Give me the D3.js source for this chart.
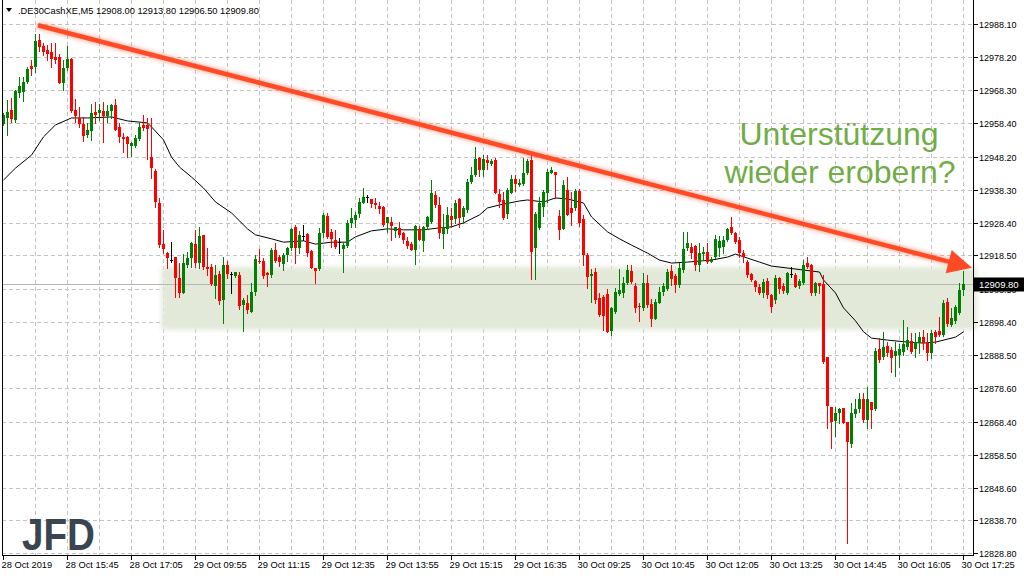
<!DOCTYPE html>
<html><head><meta charset="utf-8">
<script src="https://cdn.jsdelivr.net/npm/d3@7"></script>
<style>html,body{margin:0;padding:0;background:#fff;overflow:hidden}svg{display:block;font-family:"Liberation Sans",Arial,sans-serif}</style>
</head><body><svg id="c" width="1024" height="576"></svg>
<script>
const symbol = ".DE30CashXE,M5";
const lastOHLC = [12908.00, 12913.80, 12906.50, 12909.80];
const openV = [12958.1,12959.9,12962.3,12959.3,12967.4,12967.7,12970.7,12975.5,12975.2,12983.4,12981.6,12980.4,12979.8,12978.3,12978.3,12970.4,12974.9,12977.7,12962.3,12959.9,12958.1,12954.8,12956.0,12961.7,12961.4,12962.0,12960.5,12962.0,12963.8,12957.2,12954.2,12954.2,12951.5,12951.5,12953.6,12957.8,12957.8,12948.1,12943.9,12934.3,12921.9,12919.2,12917.1,12918.0,12911.7,12907.2,12915.6,12917.7,12921.9,12916.2,12924.7,12915.0,12915.0,12909.3,12912.9,12905.1,12915.6,12912.9,12912.3,12912.6,12903.6,12904.2,12901.5,12907.5,12916.8,12916.8,12913.2,12912.6,12920.1,12918.0,12915.9,12918.6,12920.7,12927.1,12920.7,12924.4,12925.0,12919.8,12914.7,12914.4,12925.3,12930.4,12925.6,12923.2,12922.5,12920.4,12921.3,12928.3,12929.2,12931.0,12934.3,12936.1,12935.5,12934.3,12933.4,12933.1,12928.3,12928.6,12925.9,12926.8,12925.3,12922.9,12921.9,12920.1,12926.5,12922.9,12927.1,12928.6,12936.7,12933.7,12925.0,12926.5,12930.4,12929.5,12935.5,12930.1,12932.2,12940.6,12942.7,12947.8,12944.2,12947.2,12946.0,12947.2,12937.0,12935.2,12931.0,12937.3,12941.5,12939.7,12940.0,12943.3,12947.2,12920.7,12926.8,12933.1,12937.3,12943.3,12943.6,12930.4,12926.5,12938.2,12932.8,12932.8,12937.9,12929.5,12918.6,12912.3,12913.5,12905.7,12906.0,12906.9,12895.8,12901.5,12906.9,12907.2,12910.2,12913.8,12909.3,12903.3,12902.7,12910.2,12903.9,12899.4,12904.2,12907.5,12908.4,12913.8,12912.3,12909.6,12914.1,12920.7,12921.0,12921.3,12915.6,12918.9,12919.5,12916.5,12918.0,12920.7,12921.0,12923.2,12927.1,12925.3,12923.2,12919.2,12916.5,12912.9,12910.8,12909.0,12907.2,12910.8,12906.6,12905.1,12911.7,12909.3,12907.2,12912.9,12912.6,12909.3,12910.2,12916.2,12915.6,12907.2,12910.2,12909.9,12887.9,12872.9,12868.7,12871.1,12872.6,12868.4,12861.7,12870.8,12872.3,12875.3,12869.0,12874.4,12872.3,12890.3,12887.9,12891.2,12890.0,12888.2,12888.5,12889.4,12890.9,12892.7,12890.3,12892.1,12893.9,12892.1,12889.1,12895.5,12895.8,12894.5,12904.5,12897.6,12898.8,12901.2,12908.0];
const highV = [12961.4,12965.3,12965.9,12968.3,12972.2,12972.2,12975.2,12977.4,12985.2,12985.2,12982.5,12981.9,12982.5,12982.5,12979.2,12977.4,12981.6,12978.0,12965.6,12963.2,12960.2,12958.4,12964.1,12964.7,12964.1,12964.7,12963.8,12964.1,12965.6,12958.4,12955.4,12954.5,12952.7,12954.8,12958.4,12960.8,12959.9,12959.9,12944.5,12935.8,12926.2,12919.5,12922.5,12918.0,12916.2,12918.9,12919.5,12922.5,12926.2,12927.1,12924.7,12920.7,12915.9,12915.6,12913.8,12918.0,12916.8,12913.5,12913.5,12913.5,12905.7,12906.6,12910.2,12918.6,12920.4,12917.7,12913.5,12920.7,12922.2,12918.6,12919.2,12921.0,12926.8,12927.7,12925.9,12927.7,12925.3,12920.1,12914.7,12926.8,12931.3,12931.3,12926.5,12926.2,12923.8,12922.2,12929.2,12932.8,12931.6,12935.8,12938.8,12936.7,12935.5,12935.8,12934.6,12933.4,12930.1,12930.1,12927.1,12928.6,12925.6,12924.1,12922.5,12927.7,12927.4,12927.4,12930.4,12941.2,12937.9,12936.1,12931.0,12933.1,12932.8,12935.2,12935.8,12933.4,12941.5,12945.1,12951.2,12948.1,12948.7,12948.7,12947.5,12947.8,12938.5,12937.6,12938.8,12942.7,12942.7,12941.5,12947.8,12947.5,12949.7,12931.6,12936.1,12938.2,12944.5,12945.1,12943.6,12932.2,12941.2,12942.1,12937.6,12938.5,12938.5,12930.7,12919.2,12914.4,12914.7,12907.2,12906.6,12908.4,12903.0,12908.7,12914.4,12912.0,12915.6,12915.6,12910.2,12904.2,12913.2,12912.6,12905.4,12905.4,12909.0,12910.2,12914.4,12915.6,12912.9,12916.2,12925.6,12925.6,12922.2,12921.6,12922.2,12921.0,12922.2,12918.0,12924.7,12924.4,12924.4,12926.8,12930.1,12925.6,12924.1,12920.1,12917.1,12913.2,12911.1,12909.9,12911.4,12911.7,12906.9,12912.6,12912.0,12910.2,12913.5,12915.0,12913.2,12911.4,12917.1,12918.0,12915.9,12910.5,12910.2,12912.6,12887.9,12872.9,12872.9,12872.6,12872.6,12868.4,12874.1,12875.3,12877.1,12877.1,12878.9,12874.4,12890.6,12893.6,12895.5,12892.4,12890.9,12892.4,12891.8,12899.1,12897.0,12895.1,12895.1,12895.5,12896.1,12895.1,12896.1,12896.1,12900.0,12905.1,12905.7,12902.7,12903.6,12910.2,12913.8];
const lowV = [12957.8,12954.8,12958.7,12958.7,12966.2,12965.0,12970.4,12972.8,12973.7,12980.1,12978.9,12977.4,12975.2,12976.5,12970.4,12968.3,12974.3,12961.7,12958.7,12957.2,12953.0,12954.2,12953.3,12958.4,12959.3,12952.7,12958.7,12959.9,12956.3,12952.7,12949.7,12948.1,12948.4,12951.2,12953.3,12956.3,12947.5,12941.8,12933.1,12921.0,12919.2,12914.7,12916.5,12906.0,12906.0,12907.2,12915.0,12915.0,12915.0,12914.7,12914.4,12912.6,12909.6,12905.7,12903.9,12898.2,12911.7,12907.2,12912.0,12902.4,12895.8,12901.2,12901.5,12906.6,12916.2,12911.7,12909.3,12912.0,12916.5,12915.3,12914.1,12916.8,12920.1,12916.2,12919.2,12923.2,12918.3,12914.7,12910.2,12914.1,12924.1,12923.8,12921.0,12920.7,12919.2,12913.5,12921.0,12927.1,12927.1,12930.1,12934.3,12934.6,12933.1,12932.8,12931.3,12927.4,12925.6,12923.2,12924.1,12924.1,12922.2,12920.7,12920.1,12915.9,12923.2,12919.8,12926.5,12928.3,12933.1,12923.8,12920.7,12925.3,12927.1,12928.3,12927.1,12928.3,12931.6,12940.3,12942.4,12942.4,12942.4,12944.5,12945.7,12937.3,12933.1,12929.5,12929.8,12937.3,12937.9,12939.4,12939.7,12943.0,12911.4,12911.4,12926.5,12930.4,12934.6,12943.3,12935.8,12923.5,12926.5,12930.7,12927.7,12932.2,12927.4,12915.6,12908.7,12904.5,12904.2,12900.3,12896.1,12895.5,12894.5,12901.2,12906.6,12906.0,12909.9,12910.2,12901.5,12898.8,12902.1,12903.0,12897.3,12899.4,12904.2,12906.6,12908.1,12909.6,12907.5,12909.0,12913.5,12920.1,12917.7,12914.1,12913.8,12917.1,12916.2,12916.5,12917.7,12918.3,12919.2,12922.9,12925.0,12922.2,12918.0,12916.5,12912.0,12910.8,12907.8,12906.9,12906.0,12905.7,12901.5,12904.2,12907.2,12907.2,12906.9,12912.0,12909.0,12908.7,12909.9,12914.7,12906.6,12906.6,12907.2,12886.1,12866.5,12860.5,12864.1,12868.0,12868.0,12831.9,12860.8,12869.9,12871.4,12868.4,12866.5,12866.5,12872.0,12886.4,12887.3,12888.2,12883.4,12882.2,12884.9,12888.5,12890.3,12889.1,12887.9,12889.1,12890.3,12887.0,12887.6,12892.1,12894.2,12894.2,12897.3,12897.3,12898.2,12900.9,12906.5];
const closeV = [12960.8,12961.7,12959.6,12968.0,12969.5,12970.7,12974.6,12974.6,12983.1,12981.3,12979.8,12979.2,12977.7,12977.4,12970.4,12974.9,12977.7,12962.0,12960.5,12958.1,12954.5,12956.3,12961.4,12960.8,12962.3,12960.5,12962.0,12963.8,12956.3,12954.2,12953.6,12952.1,12952.4,12953.9,12957.2,12956.9,12956.6,12944.8,12934.6,12921.6,12920.4,12917.7,12917.1,12911.7,12907.2,12916.2,12917.7,12922.2,12916.2,12924.4,12915.0,12914.4,12909.9,12912.6,12904.8,12915.6,12912.9,12912.9,12913.5,12903.3,12905.1,12902.1,12907.5,12917.4,12916.5,12912.3,12912.6,12920.1,12916.8,12916.5,12918.6,12920.7,12926.5,12920.7,12924.7,12924.4,12919.2,12914.7,12913.8,12925.3,12930.7,12924.1,12923.5,12921.0,12922.5,12921.6,12928.3,12929.8,12930.7,12934.6,12936.1,12936.1,12934.0,12933.7,12932.5,12927.7,12930.1,12927.4,12927.1,12924.7,12923.2,12921.3,12920.1,12927.4,12923.2,12927.1,12930.1,12937.3,12933.7,12925.3,12927.1,12930.7,12929.2,12934.3,12929.8,12932.8,12940.6,12942.7,12947.5,12944.2,12947.5,12946.3,12946.9,12937.3,12934.6,12929.8,12938.2,12941.5,12940.0,12940.3,12943.3,12946.9,12919.5,12931.0,12934.3,12937.6,12943.6,12944.2,12942.7,12926.2,12939.7,12930.7,12931.3,12937.9,12928.3,12918.6,12912.0,12912.9,12905.1,12900.6,12900.3,12895.5,12902.7,12907.5,12908.1,12910.2,12914.1,12910.5,12902.7,12903.0,12910.2,12903.6,12899.4,12904.5,12907.5,12909.3,12913.5,12911.4,12909.6,12914.7,12920.4,12922.2,12919.2,12915.6,12919.2,12919.5,12916.5,12917.4,12923.5,12922.9,12923.2,12926.5,12925.3,12922.5,12919.2,12918.0,12912.6,12911.1,12909.0,12907.2,12910.5,12906.6,12903.0,12911.7,12908.4,12907.8,12913.2,12912.9,12909.0,12910.8,12915.6,12915.0,12907.2,12910.2,12909.3,12886.4,12873.2,12868.4,12871.1,12872.3,12868.0,12862.3,12871.1,12872.3,12875.3,12869.0,12875.3,12872.0,12889.7,12887.0,12890.9,12889.1,12887.6,12889.7,12890.3,12891.8,12893.0,12889.4,12892.4,12893.9,12892.1,12889.1,12895.1,12893.9,12894.5,12904.2,12897.9,12899.7,12903.0,12908.1,12909.8];
// moving average (bar index, value)
const maIdx = [0,3,7,10,13,17,21,27,31,36,37,40,42,44,47,50,53,57,61,63,67,70,75,78,82,86,88,92,96,100,105,109,112,115,119,121,124,129,131,135,138,141,145,147,151,154,157,161,164,167,171,174,177,181,183,186,189,192,196,200,204,205,208,210,213,215,217,221,226,230,233,236,238,240];
const maVal = [12941.2,12944.8,12948.7,12954.2,12957.8,12959.9,12959.9,12960.2,12959.0,12958.4,12957.2,12953.3,12948.1,12945.1,12942.1,12938.8,12934.6,12931.3,12926.5,12924.7,12923.5,12922.5,12922.9,12921.9,12922.5,12922.5,12924.1,12925.9,12926.5,12926.2,12926.2,12926.8,12927.1,12928.3,12930.7,12932.8,12933.7,12934.9,12935.2,12934.6,12935.8,12935.5,12934.3,12930.1,12925.6,12923.5,12921.6,12919.2,12917.1,12916.2,12916.5,12916.8,12917.1,12918.0,12918.9,12917.7,12916.5,12915.3,12914.7,12914.1,12913.5,12911.1,12907.2,12902.7,12898.8,12895.5,12893.6,12893.0,12892.4,12892.1,12892.4,12893.3,12893.9,12895.5];
const xTickIdx = [0,16,32,48,64,80,96,112,128,144,160,176,192,208,224,240];
const xTickLabels = ["28 Oct 2019","28 Oct 15:45","28 Oct 17:05","29 Oct 09:55","29 Oct 11:15","29 Oct 12:35","29 Oct 13:55","29 Oct 15:15","29 Oct 16:35","30 Oct 09:25","30 Oct 10:45","30 Oct 12:05","30 Oct 13:25","30 Oct 14:45","30 Oct 16:05","30 Oct 17:25"];
const yTicks = [12988.10,12978.20,12968.30,12958.40,12948.20,12938.30,12928.40,12918.50,12908.50,12898.40,12888.50,12878.60,12868.40,12858.50,12848.60,12838.70,12828.80];
const zoneTop = 12915.0, zoneBottom = 12896.1, zoneStartIdx = 40;
const trendStart = [8.6, 12987.8], trendEnd = [242.1, 12914.8];
const noteLines = ["Unterstützung","wieder erobern?"];
const logoText = "JFD";

const svg = d3.select("#c");
const L = 2, R = 973, B = 555;
const x = d3.scaleLinear().domain([0, 240]).range([3.5, 963.5]);
const y = d3.scaleLinear().domain([12828.8, 12988.1]).range([553.3, 24.3]);
const defs = svg.append("defs");
defs.append("filter").attr("id","soft").attr("x","-5%").attr("y","-30%").attr("width","110%").attr("height","160%")
  .append("feGaussianBlur").attr("stdDeviation", 2.5);
defs.append("filter").attr("id","glow").attr("x","-5%").attr("y","-20%").attr("width","110%").attr("height","140%")
  .append("feGaussianBlur").attr("stdDeviation", 2);

svg.append("rect").attr("width",1024).attr("height",576).attr("fill","#fff");

// grid
const g = svg.append("g").attr("stroke","#c3c3c3").attr("stroke-dasharray","4,3").attr("stroke-width",1);
yTicks.forEach(v => { const yy = Math.round(y(v)) + 0.5;
  g.append("line").attr("x1",L).attr("x2",R).attr("y1",yy).attr("y2",yy); });
d3.range(8, 241, 8).forEach(i => { const xx = Math.floor(x(i)) + 0.5;
  g.append("line").attr("x1",xx).attr("x2",xx).attr("y1",0).attr("y2",B); });

// support zone
svg.append("rect").attr("x", x(zoneStartIdx) - 2).attr("y", y(zoneTop))
  .attr("width", R + 6 - x(zoneStartIdx)).attr("height", y(zoneBottom) - y(zoneTop))
  .attr("fill","#e2e9d9").attr("filter","url(#soft)");

// bid line
const bidY = Math.round(y(lastOHLC[3])) + 0.5;
svg.append("line").attr("x1",L).attr("x2",R).attr("y1",bidY).attr("y2",bidY).attr("stroke","#b4b8ae").attr("stroke-width",1);

// moving average
svg.append("path").datum(maIdx.map((d,k)=>[d, maVal[k]]))
  .attr("d", d3.line().x(d=>x(d[0])).y(d=>y(d[1])))
  .attr("fill","none").attr("stroke","#000").attr("stroke-width",1);

// candles
const cg = svg.append("g");
openV.forEach((o,i) => {
  const c = closeV[i], h = highV[i], l = lowV[i];
  const col = c > o ? "#008000" : (c < o ? "#ff0000" : "#000000");
  const cx = Math.floor(x(i)) + 0.5;
  cg.append("line").attr("x1",cx).attr("x2",cx).attr("y1",Math.round(y(h))).attr("y2",Math.round(y(l))+1).attr("stroke",col);
  const t = Math.round(y(Math.max(o,c))), b = Math.round(y(Math.min(o,c)));
  cg.append("rect").attr("x",cx-1.5).attr("y",t).attr("width",3).attr("height",Math.max(1,b-t)).attr("fill",col);
});

// trend arrow
const ax1 = x(trendStart[0]), ay1 = y(trendStart[1]), ax2 = x(trendEnd[0]), ay2 = y(trendEnd[1]);
const len = Math.hypot(ax2-ax1, ay2-ay1), ux = (ax2-ax1)/len, uy = (ay2-ay1)/len;
const hl = 24, hw = 12;
const bx = ax2 - ux*hl, by = ay2 - uy*hl;
const head = [[ax2,ay2],[bx - uy*hw, by + ux*hw],[bx + uy*hw, by - ux*hw]];
const ag = svg.append("g");
ag.append("line").attr("x1",ax1).attr("y1",ay1).attr("x2",bx+ux*2).attr("y2",by+uy*2).attr("stroke","#ff7a5c").attr("stroke-width",7).attr("stroke-opacity",0.55).attr("filter","url(#glow)");
ag.append("line").attr("x1",ax1).attr("y1",ay1).attr("x2",bx+ux*2).attr("y2",by+uy*2).attr("stroke","#ff4a26").attr("stroke-width",4.5);
ag.append("path").attr("d", d3.line()(head) + "Z").attr("fill","#ff4a26");

// borders
svg.append("line").attr("x1",L+0.5).attr("x2",L+0.5).attr("y1",0).attr("y2",B+0.5).attr("stroke","#000");
svg.append("line").attr("x1",R+0.5).attr("x2",R+0.5).attr("y1",0).attr("y2",B+0.5).attr("stroke","#000");
svg.append("line").attr("x1",L).attr("x2",R+1).attr("y1",B+0.5).attr("y2",B+0.5).attr("stroke","#000");

// right axis
const ya = svg.append("g").attr("font-size","9px").attr("fill","#000");
yTicks.forEach(v => { const yy = Math.round(y(v)) + 0.5;
  svg.append("line").attr("x1",R).attr("x2",R+5).attr("y1",yy).attr("y2",yy).attr("stroke","#000");
  ya.append("text").attr("x",979).attr("y",yy+3.5).text(v.toFixed(2)); });
svg.append("rect").attr("x",R+1).attr("y",bidY-7).attr("width",50).attr("height",14).attr("fill","#000");
svg.append("text").attr("x",979).attr("y",bidY+3.5).attr("font-size","9.5px").attr("fill","#fff").text(lastOHLC[3].toFixed(2));

// bottom axis
const xa = svg.append("g").attr("font-size","9.3px").attr("fill","#000");
xTickIdx.forEach((idx,k) => { const xx = Math.floor(x(idx)) + 0.5;
  svg.append("line").attr("x1",xx).attr("x2",xx).attr("y1",B).attr("y2",B+5).attr("stroke","#000");
  xa.append("text").attr("x",xx-2).attr("y",568).text(xTickLabels[k]); });

// header
svg.append("path").attr("d","M6,8L12,8L9,12Z").attr("fill","#000");
svg.append("text").attr("x",18).attr("y",14).attr("font-size","9.3px").attr("fill","#000")
  .text(symbol + "  " + lastOHLC.map(v=>v.toFixed(2)).join(" "));

// annotation
const nt = svg.append("g").attr("font-size","32px").attr("fill","#70ad47").attr("text-anchor","middle");
nt.append("text").attr("x",839).attr("y",145).text(noteLines[0]);
nt.append("text").attr("x",840).attr("y",183).text(noteLines[1]);

// logo
svg.append("text").attr("x",22).attr("y",550).attr("font-size","44px").attr("font-weight","bold")
  .attr("fill","#3a4550").attr("textLength",73).attr("lengthAdjust","spacingAndGlyphs").text(logoText);
</script></body></html>
